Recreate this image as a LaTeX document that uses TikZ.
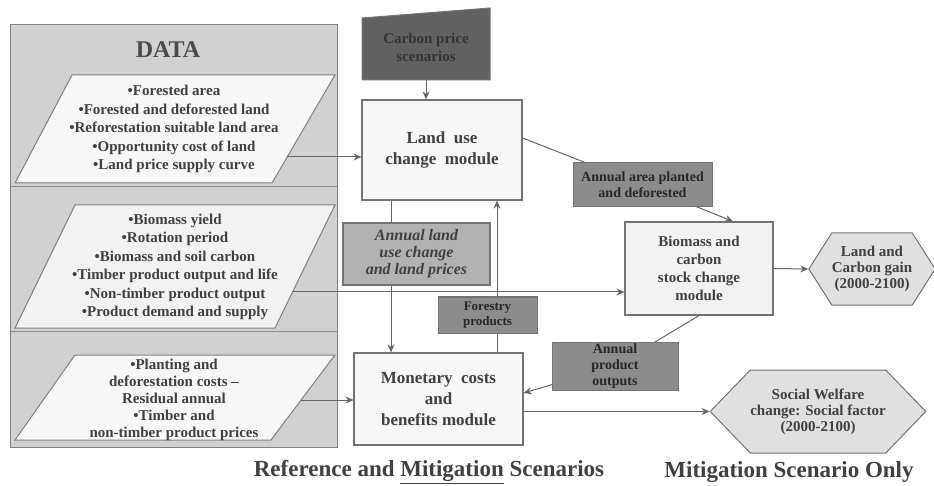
\documentclass[tikz,border=0pt]{standalone}
\usepackage{fontspec}
\setmainfont{Liberation Serif}
\usetikzlibrary{shapes.symbols,arrows.meta,positioning}
\tikzset{
  module/.style={draw=black!55,line width=1.2pt,fill=black!3,align=center,inner sep=0pt,text=black!75,font=\fontsize{17}{21}\selectfont\bfseries},
  tagbox/.style={draw=black!55,line width=1pt,fill=black!45,align=center,inner sep=0pt,text=black!85,font=\fontsize{14}{16}\selectfont\bfseries},
  goal/.style={draw=black!55,line width=1pt,fill=black!12,shape=signal,signal to=west and east,align=center,inner sep=0pt,text=black!75,font=\fontsize{15}{16}\selectfont\bfseries},
  datalist/.style={align=center,text=black!75,font=\fontsize{15}{18.5}\selectfont\bfseries},
  datapanel/.style={fill=black!3,draw=black!50,line width=1pt},
  caption/.style={text=black!75,font=\fontsize{23}{26}\selectfont\bfseries},
  link/.style={draw=black!60,line width=1pt},
  flow/.style={link,-{Stealth[length=8pt,width=7pt]}},
}
\begin{document}
\begin{tikzpicture}[x=1pt,y=-1pt]
\useasboundingbox (0,0) rectangle (934,486);
\fill[white] (0,0) rectangle (934,486);
\filldraw[fill=black!18,draw=black!50,line width=1pt] (10,25) rectangle (337,447);
\draw[black!45,line width=1pt] (10,187) -- (337,187);
\draw[black!45,line width=1pt] (10,331) -- (337,331);
\node[font=\fontsize{24}{26}\selectfont\bfseries,text=black!70] (data) at (168,50) {DATA};

\filldraw[datapanel] (72,75) -- (335,75) -- (272,183) -- (15,183) -- cycle;
\node[datalist] (landdata) at (174,129) {\textbullet Forested area\\ \textbullet Forested and deforested land\\ \textbullet Reforestation suitable land area\\ \textbullet Opportunity cost of land\\ \textbullet Land price supply curve};
\coordinate (p1out) at (287,157);

\filldraw[datapanel,fill=black!5] (75,205) -- (335,205) -- (275,328) -- (15,328) -- cycle;
\node[datalist] (biodata) at (175,267) {\textbullet Biomass yield\\ \textbullet Rotation period\\ \textbullet Biomass and soil carbon\\ \textbullet Timber product output and life\\ \textbullet Non-timber product output\\ \textbullet Product demand and supply};
\coordinate (p2out) at (293,292);

\filldraw[datapanel] (75,355) -- (335,355) -- (271,440) -- (15,440) -- cycle;
\node[datalist,font=\fontsize{15}{17}\selectfont\bfseries] (costdata) at (174,400) {\textbullet Planting and\\ deforestation costs --\\ Residual annual\\ \textbullet Timber and\\ non-timber product prices};
\coordinate (p3out) at (301,400);

\filldraw[fill=black!62,draw=black!55,line width=1pt] (362,18) -- (490,8) -- (490,80) -- (362,80) -- cycle;
\node[align=center,text=black!80,font=\fontsize{15}{18}\selectfont\bfseries] (scen) at (426,47) {Carbon price\\ scenarios};
\coordinate (scenbase) at (426,80);

\node[module,minimum width=160,minimum height=100] (landuse) at (442,150) {Land\enspace use\\ change\enspace module};
\node[module,fill=black!30,minimum width=147,minimum height=62,font=\fontsize{16}{17}\selectfont\bfseries\itshape] (annual) at (416.5,254) {Annual land\\ use change\\ and land prices};
\node[module,fill=black!5,minimum width=148,minimum height=93,font=\fontsize{15}{18}\selectfont\bfseries] (biomass) at (699,268.5) {Biomass and\\ carbon\\ stock change\\ module};
\node[module,minimum width=169,minimum height=92] (monetary) at (438.5,399) {Monetary\enspace costs\\ and\\ benefits module};

\node[goal,minimum width=120,minimum height=72,signal pointer angle=115] (gain) at (872,269) {Land and\\ Carbon gain\\ (2000-2100)};
\node[goal,minimum width=210,minimum height=83,signal pointer angle=92] (welfare) at (818,411.5) {Social Welfare\\ change: Social factor\\ (2000-2100)};

\draw[flow] (scenbase) -- (scenbase |- landuse.north);
\draw[flow] (p1out) -- (p1out -| landuse.west);
\draw[flow] (p2out) -- (p2out -| biomass.west);
\draw[flow] (p3out) -- (p3out -| monetary.west);
\draw[link] ([xshift=-25.5pt]annual.north) -- ([xshift=-25.5pt]annual.north |- landuse.south);
\draw[flow] ([xshift=-25.5pt]annual.south) -- ([xshift=-25.5pt]annual.south |- monetary.north);
\draw[flow] ([xshift=58.5pt]monetary.north) -- ([xshift=58.5pt]monetary.north |- landuse.south);
\draw[link] ([yshift=12pt]landuse.east) -- (642.5,185);
\draw[flow] (642.5,185) -- ([xshift=34pt]biomass.north);
\draw[link] (biomass.south) -- (615,366);
\draw[flow] (615,366) -- ([yshift=6pt]monetary.east);
\draw[flow] (biomass.east) -- (gain.west);
\draw[flow] (welfare.west -| monetary.east) -- (welfare.west);

\node[tagbox,minimum width=139,minimum height=44] (areatag) at (642.5,185) {Annual area planted\\ and deforested};
\node[tagbox,minimum width=99,minimum height=36,font=\fontsize{13}{15}\selectfont\bfseries] (prodtag) at (487.5,315) {Forestry\\ products};
\node[tagbox,minimum width=126,minimum height=48] (outtag) at (615,366) {Annual\\ product\\ outputs};

\node[caption] (refcap) at (429,472) {Reference and \underline{Mitigation} Scenarios};
\node[caption] (mitcap) at (789,472) {Mitigation Scenario Only};
\end{tikzpicture}
\end{document}
